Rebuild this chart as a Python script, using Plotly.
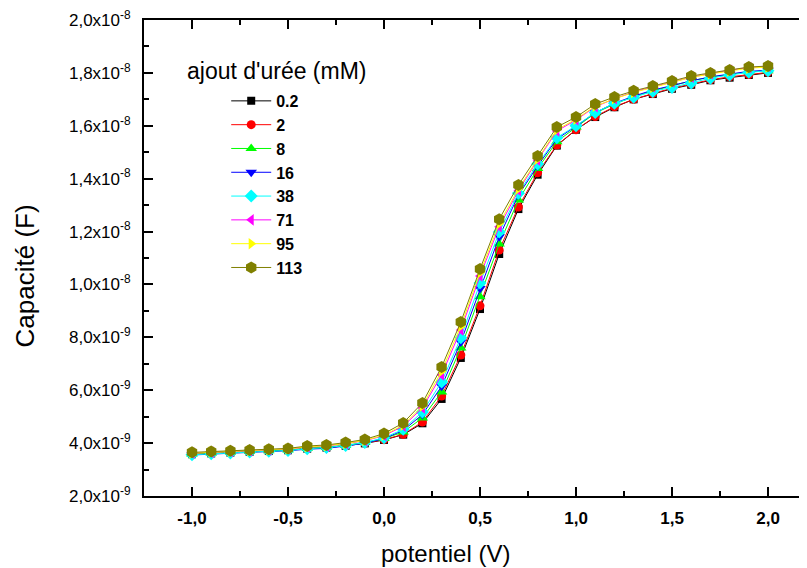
import plotly.graph_objects as go

potentiel = [-1.0, -0.9, -0.8, -0.7, -0.6, -0.5, -0.4, -0.3, -0.2, -0.1,
             0.0, 0.1, 0.2, 0.3, 0.4, 0.5, 0.6, 0.7, 0.8, 0.9,
             1.0, 1.1, 1.2, 1.3, 1.4, 1.5, 1.6, 1.7, 1.8, 1.9, 2.0]

# capacitance values in units of 1e-9 F
c_0_2 = [3.58, 3.61, 3.64, 3.67, 3.70, 3.73, 3.79, 3.83, 3.90, 3.99, 4.12, 4.32, 4.75, 5.67, 7.22, 9.07,
         11.15, 12.85, 14.15, 15.25, 15.85, 16.33, 16.70, 17.00, 17.20, 17.40, 17.55, 17.72, 17.82, 17.92, 18.00]
c_2 = [3.58, 3.62, 3.65, 3.68, 3.71, 3.74, 3.80, 3.84, 3.91, 4.00, 4.13, 4.33, 4.80, 5.78, 7.33, 9.19,
       11.30, 12.93, 14.22, 15.27, 15.85, 16.35, 16.72, 17.00, 17.22, 17.42, 17.58, 17.74, 17.85, 17.94, 18.02]
c_8 = [3.58, 3.62, 3.65, 3.68, 3.71, 3.74, 3.80, 3.84, 3.92, 4.02, 4.17, 4.42, 4.95, 5.93, 7.60, 9.53,
       11.53, 13.19, 14.38, 15.40, 15.95, 16.48, 16.82, 17.10, 17.32, 17.52, 17.70, 17.84, 17.95, 18.04, 18.08]
c_16 = [3.55, 3.59, 3.62, 3.65, 3.68, 3.71, 3.77, 3.80, 3.89, 4.00, 4.17, 4.48, 5.08, 6.15, 7.82, 9.85,
        11.80, 13.38, 14.48, 15.50, 15.98, 16.50, 16.85, 17.12, 17.35, 17.52, 17.70, 17.85, 17.96, 18.06, 18.10]
c_38 = [3.56, 3.60, 3.63, 3.66, 3.69, 3.72, 3.79, 3.83, 3.91, 4.02, 4.20, 4.52, 5.18, 6.31, 7.98, 10.05,
        11.98, 13.45, 14.55, 15.55, 16.00, 16.50, 16.85, 17.08, 17.30, 17.45, 17.62, 17.80, 17.92, 18.02, 18.08]
c_71 = [3.62, 3.65, 3.68, 3.71, 3.74, 3.78, 3.85, 3.89, 3.98, 4.09, 4.28, 4.64, 5.33, 6.58, 8.28, 10.32,
        12.18, 13.55, 14.70, 15.80, 16.22, 16.72, 17.02, 17.28, 17.47, 17.66, 17.84, 17.97, 18.10, 18.20, 18.24]
c_95 = [3.62, 3.66, 3.69, 3.72, 3.75, 3.78, 3.86, 3.90, 3.99, 4.10, 4.30, 4.68, 5.40, 6.72, 8.42, 10.44,
        12.30, 13.62, 14.74, 15.85, 16.25, 16.74, 17.02, 17.26, 17.45, 17.64, 17.83, 17.96, 18.07, 18.18, 18.22]
c_113 = [3.65, 3.68, 3.71, 3.74, 3.77, 3.80, 3.89, 3.93, 4.02, 4.14, 4.36, 4.76, 5.52, 6.88, 8.58, 10.58,
         12.47, 13.76, 14.86, 15.95, 16.33, 16.82, 17.09, 17.32, 17.50, 17.69, 17.88, 18.00, 18.11, 18.22, 18.26]

series_names = ["0.2", "2", "8", "16", "38", "71", "95", "113"]
series_values = [c_0_2, c_2, c_8, c_16, c_38, c_71, c_95, c_113]
colors = ["#000000", "#ff0000", "#00ff00", "#0000ff", "#00ffff", "#ff00ff", "#ffff00", "#808000"]
symbols = ["square", "circle", "triangle-up", "triangle-down", "diamond", "triangle-left", "triangle-right", "hexagon"]
sizes = [8, 9, 10, 10, 10, 10, 10, 12]

y_tickvals = [2e-9, 4e-9, 6e-9, 8e-9, 1e-8, 1.2e-8, 1.4e-8, 1.6e-8, 1.8e-8, 2e-8]
y_ticktext = ["2,0x10<sup>-9</sup>", "4,0x10<sup>-9</sup>", "6,0x10<sup>-9</sup>", "8,0x10<sup>-9</sup>",
              "1,0x10<sup>-8</sup>", "1,2x10<sup>-8</sup>", "1,4x10<sup>-8</sup>", "1,6x10<sup>-8</sup>",
              "1,8x10<sup>-8</sup>", "2,0x10<sup>-8</sup>"]
x_tickvals = [-1.0, -0.5, 0.0, 0.5, 1.0, 1.5, 2.0]
x_ticktext = ["-1,0", "-0,5", "0,0", "0,5", "1,0", "1,5", "2,0"]

FONT = "Liberation Sans, Arial, sans-serif"

fig = go.Figure()
for name, vals, col, sym, sz in zip(series_names, series_values, colors, symbols, sizes):
    fig.add_trace(go.Scatter(
        x=potentiel, y=[v * 1e-9 for v in vals], name=name, mode="lines+markers",
        line=dict(color=col, width=1),
        marker=dict(symbol=sym, color=col, size=sz, line=dict(width=0)),
    ))

axis_common = dict(
    showline=True, linecolor="black", linewidth=2,
    ticks="inside", tickcolor="black", tickwidth=2, ticklen=9,
    showgrid=False, zeroline=False, ticklabeloverflow="allow",
)

# page body has an 8px margin: figure occupies (8,8) onward
fig.update_layout(
    width=799, height=560,
    margin=dict(l=136, r=0, t=12, b=72),
    paper_bgcolor="white", plot_bgcolor="white",
    font=dict(family=FONT, color="black"),
    showlegend=True,
    legend=dict(
        x=0.124, y=0.8656, xanchor="left", yanchor="top",
        bgcolor="rgba(0,0,0,0)", borderwidth=0,
        font=dict(family=FONT, size=16, color="black", weight="bold"),
        itemwidth=40, tracegroupgap=0,
    ),
    xaxis=dict(
        range=[-1.25, 2.203], tickvals=x_tickvals, ticktext=x_ticktext,
        tickfont=dict(size=17, family=FONT, weight="bold"),
        mirror="allticks", ticklabelstandoff=6,
        minor=dict(ticks="inside", ticklen=5, tickwidth=2, tickcolor="black", dtick=0.25, tick0=0),
        **axis_common,
    ),
    yaxis=dict(
        range=[2e-9, 2e-8], tickvals=y_tickvals, ticktext=y_ticktext,
        tickfont=dict(size=17, family=FONT),
        mirror=False, ticklabelstandoff=8,
        minor=dict(ticks="inside", ticklen=5, tickwidth=2, tickcolor="black", dtick=1e-9, tick0=0),
        **axis_common,
    ),
    annotations=[
        dict(text="Capacité (F)", xref="paper", yref="paper", x=-0.179, y=0.462,
             xanchor="center", yanchor="middle", textangle=-90, showarrow=False,
             font=dict(family=FONT, size=26, color="black")),
        dict(text="potentiel (V)", xref="paper", yref="paper", x=0.4555, y=-0.12,
             xanchor="center", yanchor="middle", showarrow=False,
             font=dict(family=FONT, size=24, color="black")),
        dict(text="ajout d'urée (mM)", xref="paper", yref="paper", x=0.0618, y=0.893,
             xanchor="left", yanchor="middle", showarrow=False,
             font=dict(family=FONT, size=23, color="black")),
    ],
)

fig.write_html("out.html")
